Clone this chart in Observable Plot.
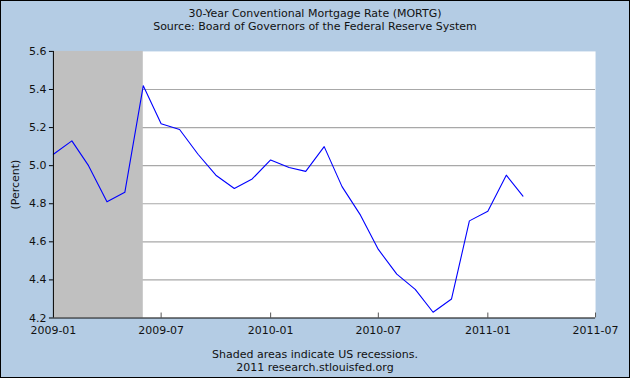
<!DOCTYPE html>
<html>
<head>
<meta charset="utf-8">
<script src="https://cdn.jsdelivr.net/npm/d3@7"></script>
<script src="https://cdn.jsdelivr.net/npm/@observablehq/plot@0.6"></script>
<style>
  html, body { margin: 0; padding: 0; background: #b4cce4; }
  #wrap { position: relative; width: 630px; height: 378px; background: #b4cce4; box-sizing: border-box; border: 1px solid #000; overflow: hidden; font-family: "DejaVu Sans", sans-serif; color: #111; }
  .t { position: absolute; left: 0; width: 628px; text-align: center; font-size: 11px; line-height: 13px; }
  #chart { position: absolute; left: -1px; top: -1px; }
</style>
</head>
<body>
<div id="wrap">
  <div class="t" style="top:6px">30-Year Conventional Mortgage Rate (MORTG)</div>
  <div class="t" style="top:19px">Source: Board of Governors of the Federal Reserve System</div>
  <div id="chart"></div>
  <div class="t" style="top:347px">Shaded areas indicate US recessions.</div>
  <div class="t" style="top:360px">2011 research.stlouisfed.org</div>
</div>
<script>
const months = ["2009-01","2009-02","2009-03","2009-04","2009-05","2009-06","2009-07","2009-08","2009-09","2009-10","2009-11","2009-12",
                "2010-01","2010-02","2010-03","2010-04","2010-05","2010-06","2010-07","2010-08","2010-09","2010-10","2010-11","2010-12",
                "2011-01","2011-02","2011-03"];
const rates = [5.06,5.13,5.00,4.81,4.86,5.42,5.22,5.19,5.06,4.95,4.88,4.93,
               5.03,4.99,4.97,5.10,4.89,4.74,4.56,4.43,4.35,4.23,4.30,4.71,
               4.76,4.95,4.84];
const xTickLabels = ["2009-01","2009-07","2010-01","2010-07","2011-01","2011-07"];
const yTicks = [4.2,4.4,4.6,4.8,5.0,5.2,5.4,5.6];
const recessionStart = ["2009-01"];
const recessionEnd = ["2009-06"];
const xDomain = ["2009-01","2011-07"];
const yDomain = [4.2,5.6];

const parse = d3.utcParse("%Y-%m");
const data = months.map((m, i) => ({date: parse(m), value: rates[i]}));
const recessions = recessionStart.map((s, i) => ({start: parse(s), end: parse(recessionEnd[i])}));
const xTicks = xTickLabels.map(parse);
const grid = yTicks.slice(1, -1);

const chart = Plot.plot({
  width: 630,
  height: 378,
  marginTop: 51,
  marginBottom: 60,
  marginLeft: 53,
  marginRight: 34,
  style: {fontFamily: "DejaVu Sans, sans-serif", fontSize: "11px", background: "transparent", color: "#111"},
  x: {type: "utc", domain: xDomain.map(parse)},
  y: {domain: yDomain},
  marks: [
    Plot.frame({fill: "white", stroke: null}),
    Plot.ruleY(grid, {stroke: "#a8a8a8", strokeWidth: 1.2, strokeOpacity: 1}),
    Plot.rect(recessions, {x1: "start", x2: "end", fill: "#c0c0c0"}),
    Plot.ruleX(xTicks.slice(1), {x: d => d, y1: yDomain[0], y2: 4.226, stroke: "#555", strokeWidth: 1}),
    Plot.line(data, {x: "date", y: "value", stroke: "#0000ff", strokeWidth: 1.1}),
    Plot.ruleX([parse(xDomain[0])], {stroke: "#000"}),
    Plot.ruleY([yDomain[0]], {stroke: "#000"}),
    Plot.axisY({ticks: yTicks, tickSize: 4, tickPadding: 3, tickFormat: d3.format(".1f"), stroke: "#000",
                label: "(Percent)", labelAnchor: "center", labelArrow: "none", labelOffset: 42}),
    Plot.axisX({ticks: xTicks, tickSize: 0, tickPadding: 8, tickFormat: d3.utcFormat("%Y-%m"), label: null})
  ]
});
document.getElementById("chart").appendChild(chart);
</script>
</body>
</html>
